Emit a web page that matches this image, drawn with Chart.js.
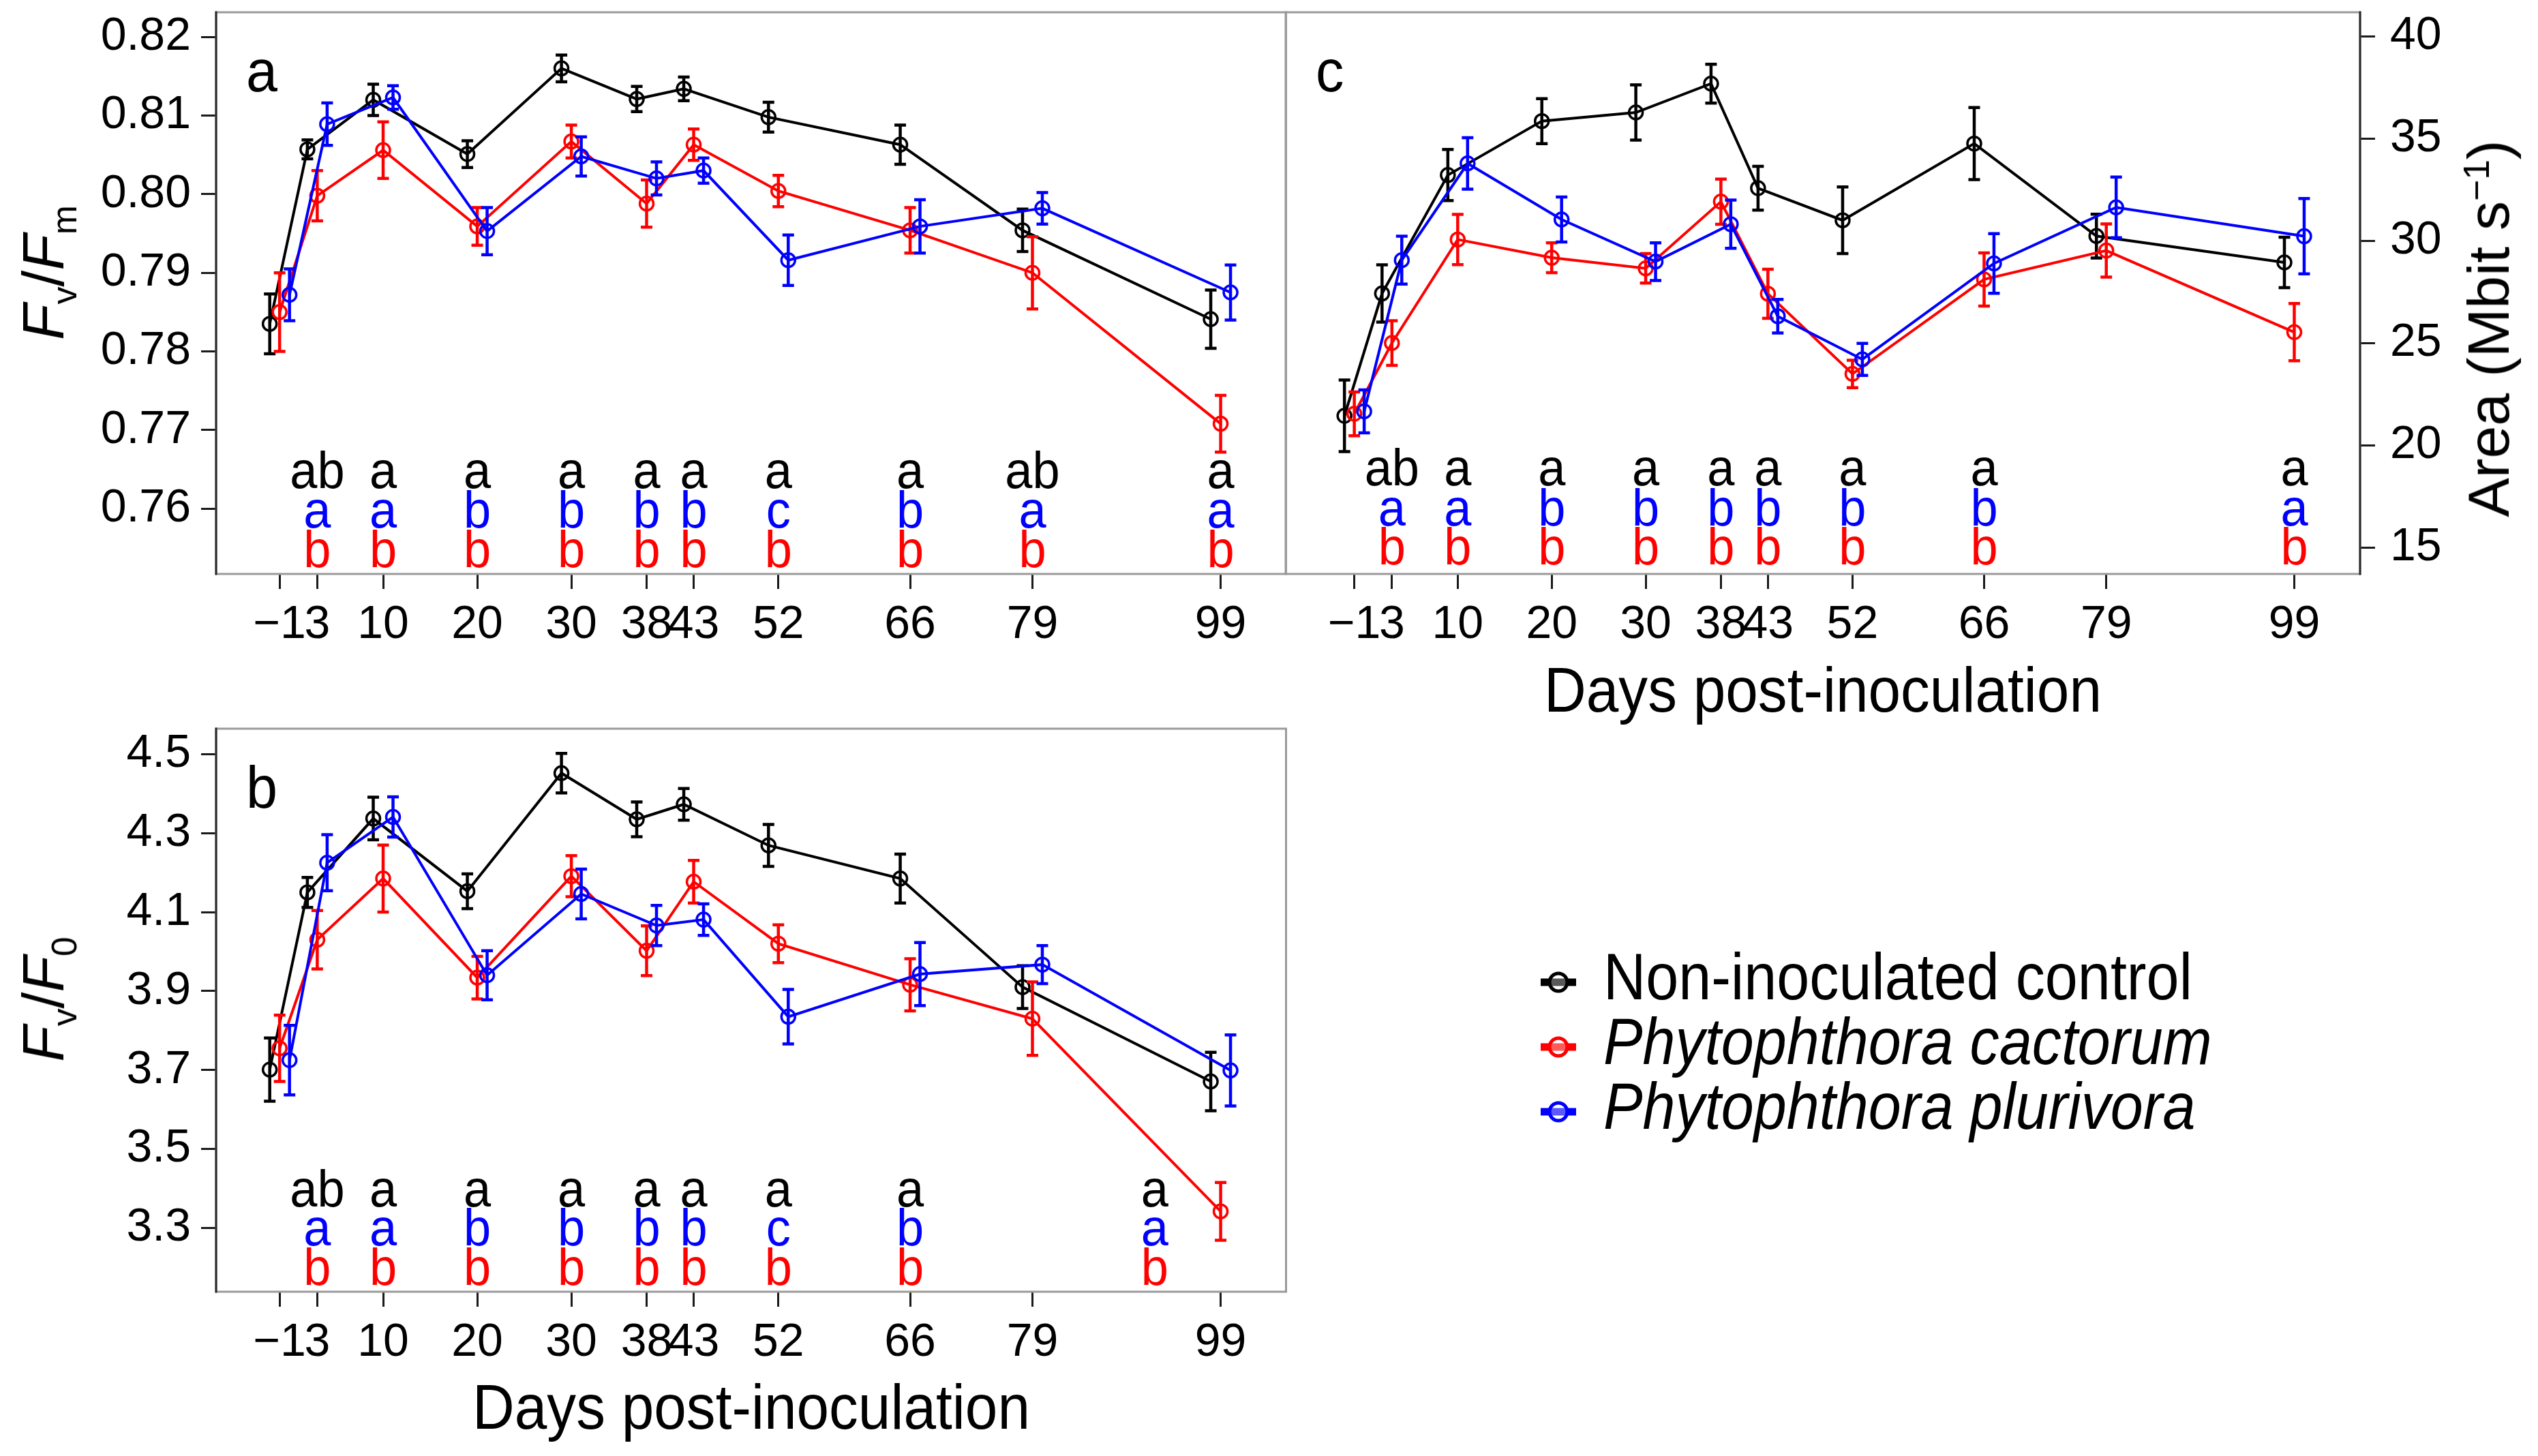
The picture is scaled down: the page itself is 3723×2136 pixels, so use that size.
<!DOCTYPE html>
<html>
<head>
<meta charset="utf-8">
<title>Fluorescence and Area after Phytophthora inoculation</title>
<script src="https://cdn.jsdelivr.net/npm/chart.js@4.4.1/dist/chart.umd.min.js"></script>
<style>
  html, body { margin: 0; padding: 0; background: #fff; }
  body { position: relative; width: 3723px; height: 2136px; overflow: hidden;
         font-family: "Liberation Sans", Arial, Helvetica, sans-serif; color: #000; }
  .box { position: absolute; }
  .title { position: absolute; width: max-content; font-size: 92px; line-height: 1; white-space: nowrap;
           transform: translate(-50%, -50%) scaleX(0.93); }
  .title.up { font-size: 86px; transform: translate(-50%, -50%) rotate(-90deg); }
  .title sub { font-size: 0.6em; line-height: 0; vertical-align: -0.36em; }
  .title sup { font-size: 0.62em; line-height: 0; vertical-align: 0.55em; }
  #legend { position: absolute; left: 2256px; top: 1385px; width: max-content; }
  #legend .row { display: flex; align-items: center; height: 95px; white-space: nowrap; }
  #legend .name { font-size: 97px; line-height: 95px; display: inline-block;
                  transform: scaleX(0.89); transform-origin: left center; }
  #legend svg { width: 60px; height: 40px; margin-right: 36px; flex: none; position: relative; top: 8px; }
</style>
</head>
<body>
<div class="box" style="left:0;top:0;width:1900px;height:1000px"><canvas id="chartA"></canvas></div>
<div class="box" style="left:0;top:1050px;width:1900px;height:1086px"><canvas id="chartB"></canvas></div>
<div class="box" style="left:1870px;top:0;width:1853px;height:1000px"><canvas id="chartC"></canvas></div>

<div class="title up" style="left:63px;top:400px"><i>F</i><sub>v</sub>/<i>F</i><sub>m</sub></div>
<div class="title up" style="left:63px;top:1466px"><i>F</i><sub>v</sub>/<i>F</i><sub>0</sub></div>
<div class="title up" style="left:3650px;top:482px">Area (Mbit s<sup>−1</sup>)</div>
<div class="title" style="left:2674px;top:1012px">Days post-inoculation</div>
<div class="title" style="left:1102px;top:2064px">Days post-inoculation</div>
<div id="legend"></div>

<script>
// sampling days and their axis labels
const days = [-1, 3, 10, 20, 30, 38, 43, 52, 66, 79, 99];
const dayLabels = ['\u22121', '3', '10', '20', '30', '38', '43', '52', '66', '79', '99'];
const seriesNames = ['Non-inoculated control', 'Phytophthora cactorum', 'Phytophthora plurivora'];
const seriesItalic = [false, true, true];
const seriesColors = ['#000000', '#ff0000', '#0000ff'];

// a - Fv/Fm
const fvfmTicks = [0.76, 0.77, 0.78, 0.79, 0.80, 0.81, 0.82];
const fvfmControl = [0.7835, 0.8057, 0.8120, 0.8051, 0.8160, 0.8121, 0.8134, 0.8098, 0.8063, 0.7954, 0.7841];
const fvfmControlSE = [0.0038, 0.0012, 0.0020, 0.0017, 0.0017, 0.0016, 0.0015, 0.0019, 0.0025, 0.0027, 0.0037];
const fvfmCactorum = [0.7850, 0.7998, 0.8056, 0.7959, 0.8067, 0.7988, 0.8063, 0.8004, 0.7954, 0.7900, 0.7708];
const fvfmCactorumSE = [0.0050, 0.0032, 0.0036, 0.0024, 0.0021, 0.0030, 0.0020, 0.0020, 0.0029, 0.0046, 0.0036];
const fvfmPlurivora = [0.7872, 0.8089, 0.8123, 0.7953, 0.8048, 0.8020, 0.8030, 0.7916, 0.7959, 0.7982, 0.7875];
const fvfmPlurivoraSE = [0.0033, 0.0027, 0.0015, 0.0030, 0.0025, 0.0021, 0.0016, 0.0032, 0.0034, 0.0020, 0.0035];
const fvfmLetterDays = [3, 10, 20, 30, 38, 43, 52, 66, 79, 99];
const fvfmLettersControl = ['ab', 'a', 'a', 'a', 'a', 'a', 'a', 'a', 'ab', 'a'];
const fvfmLettersPlurivora = ['a', 'a', 'b', 'b', 'b', 'b', 'c', 'b', 'a', 'a'];
const fvfmLettersCactorum = ['b', 'b', 'b', 'b', 'b', 'b', 'b', 'b', 'b', 'b'];

// b - Fv/F0
const fvf0Ticks = [3.3, 3.5, 3.7, 3.9, 4.1, 4.3, 4.5];
const fvf0Control = [3.701, 4.150, 4.337, 4.153, 4.452, 4.335, 4.373, 4.269, 4.185, 3.910, 3.671];
const fvf0ControlSE = [0.080, 0.038, 0.054, 0.044, 0.050, 0.044, 0.040, 0.053, 0.062, 0.054, 0.074];
const fvf0Cactorum = [3.755, 4.030, 4.185, 3.934, 4.191, 4.002, 4.177, 4.020, 3.916, 3.830, 3.342];
const fvf0CactorumSE = [0.084, 0.074, 0.085, 0.054, 0.052, 0.063, 0.054, 0.048, 0.066, 0.093, 0.073];
const fvf0Plurivora = [3.725, 4.225, 4.341, 3.940, 4.146, 4.066, 4.081, 3.835, 3.943, 3.967, 3.699];
const fvf0PlurivoraSE = [0.088, 0.071, 0.051, 0.062, 0.063, 0.051, 0.040, 0.069, 0.080, 0.048, 0.090];
const fvf0LetterDays = [3, 10, 20, 30, 38, 43, 52, 66, 92];
const fvf0LettersControl = ['ab', 'a', 'a', 'a', 'a', 'a', 'a', 'a', 'a'];
const fvf0LettersPlurivora = ['a', 'a', 'b', 'b', 'b', 'b', 'c', 'b', 'a'];
const fvf0LettersCactorum = ['b', 'b', 'b', 'b', 'b', 'b', 'b', 'b', 'b'];

// c - Area (Mbit s-1)
const areaTicks = [15, 20, 25, 30, 35, 40];
const areaControl = [21.44, 27.42, 33.21, 35.85, 36.27, 37.68, 32.57, 31.00, 34.75, 30.23, 28.94];
const areaControlSE = [1.75, 1.40, 1.25, 1.10, 1.35, 0.95, 1.07, 1.63, 1.76, 1.07, 1.23];
const areaCactorum = [21.54, 25.00, 30.06, 29.17, 28.65, 31.91, 27.41, 23.49, 28.11, 29.52, 25.53];
const areaCactorumSE = [1.07, 1.09, 1.23, 0.73, 0.72, 1.10, 1.20, 0.67, 1.30, 1.30, 1.40];
const areaPlurivora = [21.66, 29.05, 33.78, 31.04, 28.98, 30.81, 26.31, 24.20, 28.89, 31.63, 30.22];
const areaPlurivoraSE = [1.05, 1.17, 1.26, 1.10, 0.92, 1.18, 0.82, 0.78, 1.46, 1.48, 1.84];
const areaLetterDays = [3, 10, 20, 30, 38, 43, 52, 66, 99];
const areaLettersControl = ['ab', 'a', 'a', 'a', 'a', 'a', 'a', 'a', 'a'];
const areaLettersPlurivora = ['a', 'a', 'b', 'b', 'b', 'b', 'b', 'b', 'a'];
const areaLettersCactorum = ['b', 'b', 'b', 'b', 'b', 'b', 'b', 'b', 'b'];

// treatments are dodged a little along x so the bars don't overlap
const dodge = [-1.05, 0, 1.05];
const FONT = '"Liberation Sans", Arial, Helvetica, sans-serif';

Chart.defaults.font.family = FONT;
Chart.defaults.color = '#000';

// vertical error bars with caps, drawn right after each dataset
const errorBars = {
  id: 'errorBars',
  afterDatasetDraw(chart, args, opts) {
    const ds = chart.data.datasets[args.index];
    if (!ds.se) return;
    const y = chart.scales.y;
    const ctx = chart.ctx;
    ctx.save();
    ctx.strokeStyle = ds.borderColor;
    ctx.lineWidth = opts.width;
    args.meta.data.forEach((pt, i) => {
      const v = ds.data[i].y, e = ds.se[i];
      const top = y.getPixelForValue(v + e), bot = y.getPixelForValue(v - e);
      ctx.beginPath();
      ctx.moveTo(pt.x, top); ctx.lineTo(pt.x, bot);
      ctx.moveTo(pt.x - opts.cap, top); ctx.lineTo(pt.x + opts.cap, top);
      ctx.moveTo(pt.x - opts.cap, bot); ctx.lineTo(pt.x + opts.cap, bot);
      ctx.stroke();
    });
    ctx.restore();
  }
};

// significance letters stacked in three rows at the bottom of the panel
const sigLetters = {
  id: 'sigLetters',
  afterDatasetsDraw(chart, args, opts) {
    const {ctx, chartArea} = chart;
    const x = chart.scales.x;
    ctx.save();
    ctx.font = opts.font;
    ctx.textAlign = 'center';
    ctx.textBaseline = 'alphabetic';
    opts.rows.forEach((row, r) => {
      ctx.fillStyle = row.color;
      opts.columns.forEach((d, i) => {
        ctx.save();
        ctx.translate(x.getPixelForValue(d), chartArea.bottom - opts.offsets[r]);
        ctx.scale(opts.squeeze, 1);
        ctx.fillText(row.letters[i], 0, 0);
        ctx.restore();
      });
    });
    ctx.restore();
  }
};

// box round the plot (dark on the value-axis side) and the panel letter
const panelFrame = {
  id: 'panelFrame',
  beforeDatasetsDraw(chart, args, opts) {
    const {ctx, chartArea: a} = chart;
    ctx.save();
    ctx.strokeStyle = '#9a9a9a';
    ctx.lineWidth = 3;
    ctx.strokeRect(a.left, a.top, a.right - a.left, a.bottom - a.top);
    const ax = opts.axisSide === 'right' ? a.right : a.left;
    ctx.strokeStyle = '#2a2a2a';
    ctx.beginPath();
    ctx.moveTo(ax, a.top - 1.5);
    ctx.lineTo(ax, a.bottom + 1.5);
    ctx.stroke();
    ctx.fillStyle = '#000';
    ctx.translate(a.left + 44, a.top + 116);
    ctx.scale(0.94, 1);
    ctx.font = '88px ' + FONT;
    ctx.textAlign = 'left';
    ctx.textBaseline = 'alphabetic';
    ctx.fillText(opts.label, 0, 0);
    ctx.restore();
  }
};

function drawPanel(canvasId, p) {
  const datasets = p.values.map((vals, k) => ({
    label: seriesNames[k],
    data: days.map((d, i) => ({ x: d + dodge[k], y: vals[i] })),
    se: p.errors[k],
    borderColor: seriesColors[k],
    borderWidth: 4,
    pointRadius: 10,
    pointBorderWidth: 3.5,
    pointBorderColor: seriesColors[k],
    pointBackgroundColor: 'rgba(0,0,0,0)',
    tension: 0,
    order: 3 - k
  }));

  const tickGrid = { drawOnChartArea: false, drawTicks: true, tickLength: 22,
                     color: '#1a1a1a', tickColor: '#1a1a1a', lineWidth: 3, tickWidth: 3 };

  return new Chart(document.getElementById(canvasId), {
    type: 'line',
    data: { datasets },
    options: {
      responsive: true,
      maintainAspectRatio: false,
      animation: false,
      layout: { padding: p.padding },
      plugins: {
        legend: { display: false },
        tooltip: { enabled: false },
        errorBars: { width: 4.5, cap: 8.5 },
        sigLetters: {
          columns: p.letterDays,
          rows: [
            { letters: p.letters[0], color: seriesColors[0] },
            { letters: p.letters[2], color: seriesColors[2] },
            { letters: p.letters[1], color: seriesColors[1] }
          ],
          offsets: p.letterOffsets,
          font: '76px ' + FONT,
          squeeze: 0.95
        },
        panelFrame: { label: p.label, axisSide: p.yPos }
      },
      scales: {
        x: {
          type: 'linear',
          min: p.xMin,
          max: p.xMax,
          afterBuildTicks: s => { s.ticks = days.map(v => ({ value: v })); },
          afterFit: s => { s.height = p.xHeight; s.paddingLeft = 0; s.paddingRight = 0; },
          ticks: { autoSkip: false, maxRotation: 0, minRotation: 0, padding: 12,
                   font: { size: 68 }, color: '#000', callback: (v, i) => dayLabels[i] },
          grid: tickGrid,
          border: { display: false }
        },
        y: {
          type: 'linear',
          position: p.yPos,
          min: p.yMin,
          max: p.yMax,
          afterBuildTicks: s => { s.ticks = p.yTicks.map(v => ({ value: v })); },
          afterFit: s => { s.width = p.yWidth; s.paddingTop = 0; s.paddingBottom = 0; },
          ticks: { padding: p.yPad, font: { size: 68 }, color: '#000', callback: v => p.yFmt(v) },
          grid: tickGrid,
          border: { display: false }
        }
      }
    },
    plugins: [errorBars, sigLetters, panelFrame]
  });
}

drawPanel('chartA', {
  label: 'a',
  values: [fvfmControl, fvfmCactorum, fvfmPlurivora],
  errors: [fvfmControlSE, fvfmCactorumSE, fvfmPlurivoraSE],
  letterDays: fvfmLetterDays,
  letters: [fvfmLettersControl, fvfmLettersCactorum, fvfmLettersPlurivora],
  letterOffsets: [126, 68, 10],
  padding: { top: 18, right: 13, bottom: 0, left: 0 },
  xMin: -7.75, xMax: 105.95, xHeight: 158,
  yPos: 'left', yMin: 0.75169, yMax: 0.82314, yTicks: fvfmTicks, yWidth: 317, yPad: 15,
  yFmt: v => v.toFixed(2)
});

drawPanel('chartB', {
  label: 'b',
  values: [fvf0Control, fvf0Cactorum, fvf0Plurivora],
  errors: [fvf0ControlSE, fvf0CactorumSE, fvf0PlurivoraSE],
  letterDays: fvf0LetterDays,
  letters: [fvf0LettersControl, fvf0LettersCactorum, fvf0LettersPlurivora],
  letterOffsets: [125, 68, 10],
  padding: { top: 19, right: 13, bottom: 0, left: 0 },
  xMin: -7.75, xMax: 105.95, xHeight: 241,
  yPos: 'left', yMin: 3.1385, yMax: 4.5646, yTicks: fvf0Ticks, yWidth: 317, yPad: 15,
  yFmt: v => v.toFixed(1)
});

drawPanel('chartC', {
  label: 'c',
  values: [areaControl, areaCactorum, areaPlurivora],
  errors: [areaControlSE, areaCactorumSE, areaPlurivoraSE],
  letterDays: areaLetterDays,
  letters: [areaLettersControl, areaLettersCactorum, areaLettersPlurivora],
  letterOffsets: [130, 71, 14],
  padding: { top: 18, right: 0, bottom: 0, left: 16 },
  xMin: -8.3, xMax: 106, xHeight: 158,
  yPos: 'right', yMin: 13.71, yMax: 41.17, yTicks: areaTicks, yWidth: 261, yPad: 22,
  yFmt: v => String(v)
});

// legend: thick short line with an open circle, then the treatment name
const legend = document.getElementById('legend');
seriesNames.forEach((name, k) => {
  const row = document.createElement('div');
  row.className = 'row';
  const c = seriesColors[k];
  row.innerHTML =
    '<svg viewBox="0 0 60 40"><line x1="4" y1="20" x2="56" y2="20" stroke="' + c + '" stroke-width="11"/>' +
    '<circle cx="30" cy="20" r="13" fill="#fff" fill-opacity="0.35" stroke="' + c + '" stroke-width="5"/></svg>' +
    '<span class="name">' + (seriesItalic[k] ? '<i>' + name + '</i>' : name) + '</span>';
  legend.appendChild(row);
});
</script>
</body>
</html>
